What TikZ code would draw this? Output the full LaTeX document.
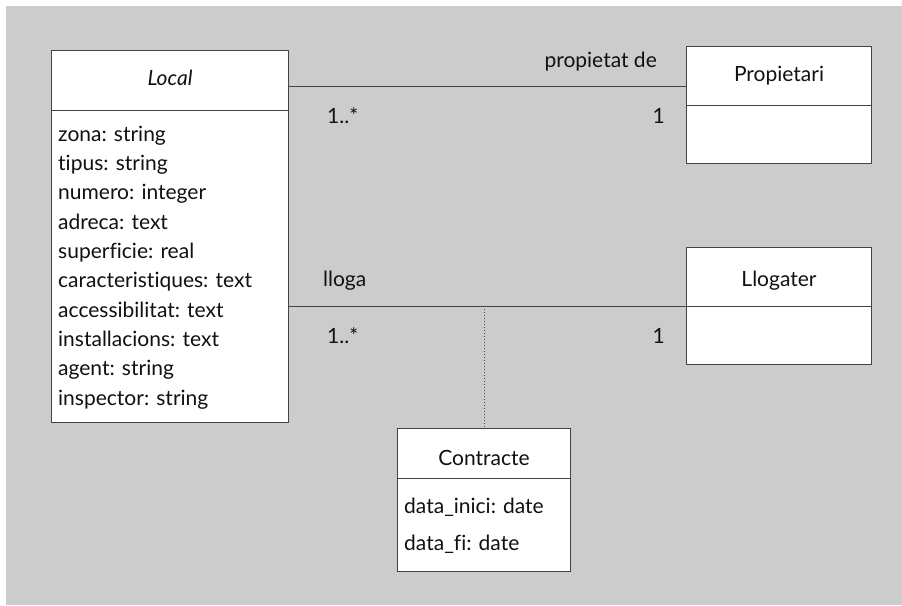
\documentclass[tikz,border=0pt]{standalone}
\usepackage{fontspec}
\setmainfont{Lato}[Ligatures=NoCommon]
\definecolor{panel}{HTML}{CCCCCC}
\definecolor{edge}{HTML}{444444}
\definecolor{ink}{HTML}{111111}
\begin{document}
\begin{tikzpicture}[x=1pt,y=-1pt,
  every node/.style={text=ink,font=\fontsize{21}{24}\selectfont},
  box/.style={draw=edge,line width=1pt,fill=white,inner sep=0pt,anchor=north west},
  attr/.style={anchor=base west,inner sep=0pt},
  lbl/.style={anchor=base,inner sep=0pt},
  assoc/.style={draw=edge,line width=1pt},
  linkline/.style={draw=edge,line width=1pt,dotted}]
\useasboundingbox (0,0) rectangle (902,605);
\fill[panel] (6,6) rectangle (902,605);

% class Local
\node[box,minimum width=237pt,minimum height=60pt] (localh) at (51,50) {};
\node[lbl] (localn) at (localh.center |- 0,85) {\textit{Local}};
\node[box,minimum width=237pt,minimum height=312pt] (localb) at (51,110) {};
\foreach \t [count=\i] in {zona: string,tipus: string,numero: integer,adreca: text,superficie: real,caracteristiques: text,accessibilitat: text,installacions: text,agent: string,inspector: string}
  \node[attr] (la\i) at (58,{141+29.35*(\i-1)}) {\t};

% class Propietari
\node[box,minimum width=185pt,minimum height=59pt] (proph) at (686,46) {};
\node[lbl] (propn) at (proph.center |- 0,81) {Propietari};
\node[box,minimum width=185pt,minimum height=58pt] (propb) at (686,105) {};

% class Llogater
\node[box,minimum width=185pt,minimum height=59pt] (llogh) at (686,247) {};
\node[lbl] (llogn) at (llogh.center |- 0,286) {Llogater};
\node[box,minimum width=185pt,minimum height=58pt] (llogb) at (686,306) {};

% association class Contracte
\node[box,minimum width=173pt,minimum height=50pt] (conth) at (397,428) {};
\node[lbl] (contn) at (conth.center |- 0,465) {Contracte};
\node[box,minimum width=173pt,minimum height=93pt] (contb) at (397,478) {};
\node[attr] (ca1) at (404,513) {data\_inici: date};
\node[attr] (ca2) at (404,550) {data\_fi: date};

% association "propietat de"
\coordinate (p1) at (localh.north east |- 0,86);
\coordinate (p2) at (proph.north west |- 0,86);
\draw[assoc] (p1) -- (p2);
\node[lbl,anchor=base east] (pname) at (657,67) {propietat de};
\node[lbl,anchor=base west] (pm1) at (327,123) {1..*};
\node[lbl,anchor=base east] (pm2) at (665,123) {1};

% association "lloga"
\coordinate (l1) at (localb.north east |- llogb.north west);
\draw[assoc] (l1) -- (llogb.north west);
\node[lbl,anchor=base west] (lname) at (323,286) {lloga};
\node[lbl,anchor=base west] (lm1) at (327,343) {1..*};
\node[lbl,anchor=base east] (lm2) at (665,343) {1};

% link to the association class
\coordinate (lk) at (conth.north |- llogb.north west);
\draw[linkline] (lk) -- (conth.north);
\end{tikzpicture}
\end{document}
